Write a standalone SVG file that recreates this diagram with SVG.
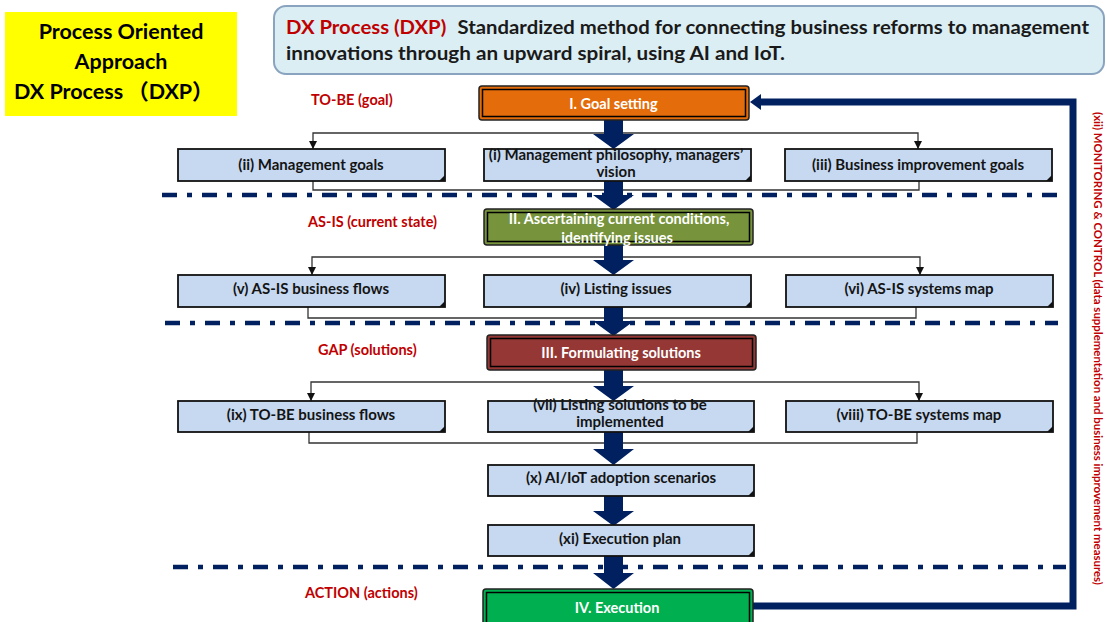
<svg xmlns="http://www.w3.org/2000/svg" width="1107" height="622" viewBox="0 0 1107 622">
<style>
.f{font-family:Lato,"Liberation Sans","Noto Sans CJK JP",sans-serif;font-weight:bold}
.lb{fill:#c6d9f1;stroke:#111;stroke-width:1.8}
.bt{font-size:15px;fill:#141414;text-anchor:middle}
.wt{font-size:14.5px;fill:#fff;text-anchor:middle}
.sec{font-size:14.5px;fill:#c00000}
.dash{stroke:#002060;stroke-width:4.5;stroke-dasharray:15 10 5 10;fill:none}
.con{stroke:#333;stroke-width:1.3;fill:none}
.big{fill:#002060}
.outer{stroke:#222;stroke-width:1.5}
.inner{fill:none;stroke:#000;stroke-width:1.5}
.fold{fill:#111}
</style>
<defs>
<marker id="ah" markerUnits="userSpaceOnUse" markerWidth="8" markerHeight="8" refX="8" refY="4" orient="auto">
<path d="M0,0 L8,4 L0,8 z" fill="#111"/>
</marker>
</defs>

<g id="header">
<rect x="5" y="12" width="232" height="104" fill="#ffff00"/>
<text class="f" x="121" y="39" font-size="21.5" text-anchor="middle" fill="#000">Process Oriented</text>
<text class="f" x="121" y="69" font-size="21.5" text-anchor="middle" fill="#000">Approach</text>
<text class="f" x="14" y="99" font-size="21.5" fill="#000">DX Process<tspan dx="4">（DXP）</tspan></text>
</g>

<g id="title">
<rect x="274" y="6" width="830" height="68" rx="12" fill="#daeef3" stroke="#8aa4c0" stroke-width="2"/>
<text class="f" x="286" y="34" font-size="18" fill="#1a1a1a" textLength="803" lengthAdjust="spacingAndGlyphs"><tspan fill="#c00000">DX Process (DXP)</tspan><tspan dx="10">Standardized method for connecting business reforms to management</tspan></text>
<text class="f" x="286" y="60" font-size="18" fill="#1a1a1a" textLength="499" lengthAdjust="spacingAndGlyphs">innovations through an upward spiral, using AI and IoT.</text>
</g>

<g id="sections">
<text class="f sec" x="311" y="105">TO-BE (goal)</text>
<text class="f sec" x="308" y="227">AS-IS (current state)</text>
<text class="f sec" x="318" y="355">GAP (solutions)</text>
<text class="f sec" x="305" y="598">ACTION (actions)</text>
</g>

<g id="connectors">
<path class="dash" d="M162,195 H1065"/>
<path class="dash" d="M165,323 H1058"/>
<path class="dash" d="M173,567 H1066"/>
<path class="con" d="M614,133 H313 V149" marker-end="url(#ah)"/>
<path class="con" d="M614,133 H918 V149" marker-end="url(#ah)"/>
<path class="con" d="M313,181 V190 H919 V181"/>
<path class="con" d="M614,257 H312 V275" marker-end="url(#ah)"/>
<path class="con" d="M614,257 H920 V275" marker-end="url(#ah)"/>
<path class="con" d="M308,307 V318 H916 V307"/>
<path class="con" d="M614,382 H311 V401" marker-end="url(#ah)"/>
<path class="con" d="M614,382 H919 V401" marker-end="url(#ah)"/>
<path class="con" d="M309,432 V443 H917 V432"/>
<path d="M753,606 H1073 V102 H758" fill="none" stroke="#002060" stroke-width="7"/>
<polygon points="750,102 761,94 761,110" fill="#002060"/>
<polygon class="big" points="604,120 623,120 623,134 634,134 613.5,149 593,134 604,134"/>
<polygon class="big" points="604,180 623,180 623,195 634,195 613.5,210 593,195 604,195"/>
<polygon class="big" points="604,244 623,244 623,260 634,260 613.5,275 593,260 604,260"/>
<polygon class="big" points="604,306 623,306 623,321 634,321 613.5,336 593,321 604,321"/>
<polygon class="big" points="604,369 623,369 623,386 634,386 613.5,401 593,386 604,386"/>
<polygon class="big" points="604,431 623,431 623,449 634,449 613.5,465 593,449 604,449"/>
<polygon class="big" points="604,495 623,495 623,511 634,511 613.5,526 593,511 604,511"/>
<polygon class="big" points="604,555 623,555 623,573 634,573 613.5,589 593,573 604,573"/>
</g>

<g id="n-goal">
<rect class="outer" x="479" y="86" width="270" height="34" rx="3" fill="#e46c0a"/>
<rect class="inner" x="482.5" y="89.5" width="263" height="27"/>
<text class="f wt" x="613.5" y="109">I. Goal setting</text>
</g>
<g id="n-ii">
<rect class="lb" x="178" y="149" width="267" height="32"/>
<polygon class="fold" points="439,181 445,175 445,181"/>
<text class="f bt" x="311" y="170">(ii) Management goals</text>
</g>
<g id="n-i">
<rect class="lb" x="484" y="149" width="267" height="32"/>
<polygon class="fold" points="745,181 751,175 751,181"/>
<text class="f bt" x="616" y="160">(i) Management philosophy, managers’</text>
<text class="f bt" x="616" y="177">vision</text>
</g>
<g id="n-iii">
<rect class="lb" x="785" y="149" width="267" height="32"/>
<polygon class="fold" points="1046,181 1052,175 1052,181"/>
<text class="f bt" x="918" y="170">(iii) Business improvement goals</text>
</g>

<g id="n-asis">
<rect class="outer" x="484" y="209" width="269" height="36" rx="3" fill="#77933c"/>
<rect class="inner" x="487.5" y="212.5" width="262" height="29"/>
<text class="f wt" x="619" y="224">II. Ascertaining current conditions,</text>
<text class="f wt" x="617" y="243">identifying issues</text>
</g>
<g id="n-v">
<rect class="lb" x="178" y="275" width="267" height="32"/>
<polygon class="fold" points="439,307 445,301 445,307"/>
<text class="f bt" x="311" y="294">(v) AS-IS business flows</text>
</g>
<g id="n-iv">
<rect class="lb" x="484" y="275" width="267" height="32"/>
<polygon class="fold" points="745,307 751,301 751,307"/>
<text class="f bt" x="616" y="294">(iv) Listing issues</text>
</g>
<g id="n-vi">
<rect class="lb" x="786" y="275" width="267" height="32"/>
<polygon class="fold" points="1047,307 1053,301 1053,307"/>
<text class="f bt" x="919" y="294">(vi) AS-IS systems map</text>
</g>

<g id="n-gap">
<rect class="outer" x="487" y="335" width="269" height="35" rx="3" fill="#953735"/>
<rect class="inner" x="490.5" y="338.5" width="262" height="28"/>
<text class="f wt" x="621" y="358">III. Formulating solutions</text>
</g>
<g id="n-ix">
<rect class="lb" x="178" y="401" width="267" height="31"/>
<polygon class="fold" points="439,432 445,426 445,432"/>
<text class="f bt" x="311" y="420">(ix) TO-BE business flows</text>
</g>
<g id="n-vii">
<rect class="lb" x="488" y="401" width="266" height="31"/>
<polygon class="fold" points="748,432 754,426 754,432"/>
<text class="f bt" x="620" y="410">(vii) Listing solutions to be</text>
<text class="f bt" x="620" y="427">implemented</text>
</g>
<g id="n-viii">
<rect class="lb" x="786" y="401" width="267" height="31"/>
<polygon class="fold" points="1047,432 1053,426 1053,432"/>
<text class="f bt" x="919" y="420">(viii) TO-BE systems map</text>
</g>
<g id="n-x">
<rect class="lb" x="488" y="465" width="266" height="31"/>
<polygon class="fold" points="748,496 754,490 754,496"/>
<text class="f bt" x="621" y="483">(x) AI/IoT adoption scenarios</text>
</g>
<g id="n-xi">
<rect class="lb" x="488" y="525" width="266" height="31"/>
<polygon class="fold" points="748,556 754,550 754,556"/>
<text class="f bt" x="620" y="544">(xi) Execution plan</text>
</g>
<g id="n-exec">
<rect class="outer" x="483" y="589" width="270" height="40" rx="3" fill="#00b050"/>
<rect class="inner" x="486.5" y="592.5" width="263" height="33"/>
<text class="f wt" x="617" y="613">IV. Execution</text>
</g>
<g id="n-monitor">
<text class="f" transform="translate(1094,112) rotate(90)" font-size="11.5" fill="#c00000" textLength="473" lengthAdjust="spacingAndGlyphs">(xii) MONITORING &amp; CONTROL (data supplementation and business improvement measures)</text>
</g>
</svg>
